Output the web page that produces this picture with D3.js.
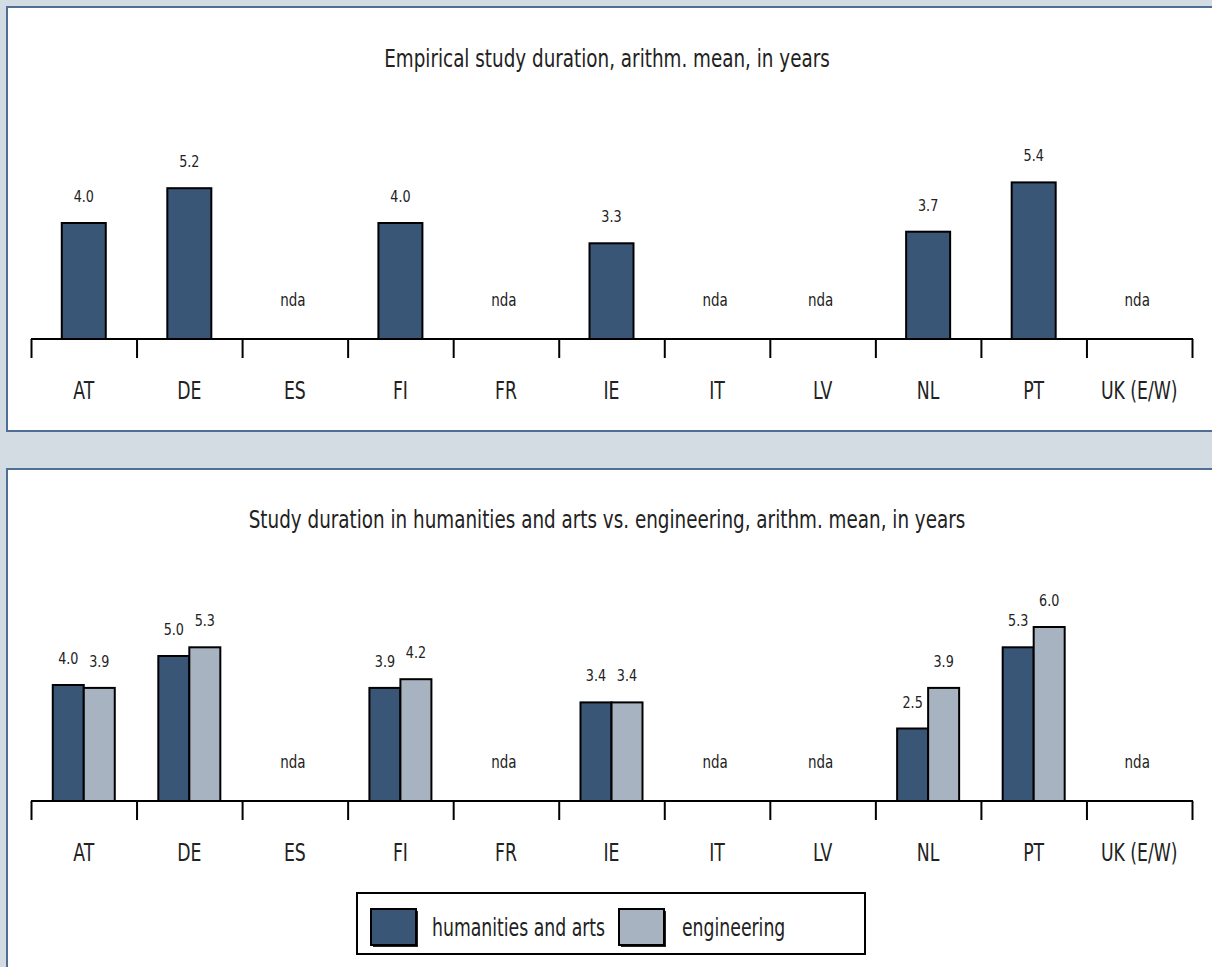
<!DOCTYPE html>
<html>
<head>
<meta charset="utf-8">
<script src="https://cdn.jsdelivr.net/npm/d3@7"></script>
<style>
  body { margin: 0; background: #d3dbe3; }
  svg { display: block; }
  text { font-family: "DejaVu Sans Condensed", "DejaVu Sans", sans-serif; fill: #222; }
</style>
</head>
<body>
<div id="chart"></div>
<script>
// data
var categories = ["AT", "DE", "ES", "FI", "FR", "IE", "IT", "LV", "NL", "PT", "UK (E/W)"];
var overallMean = [4.0, 5.2, null, 4.0, null, 3.3, null, null, 3.7, 5.4, null];
var humanitiesMean = [4.0, 5.0, null, 3.9, null, 3.4, null, null, 2.5, 5.3, null];
var engineeringMean = [3.9, 5.3, null, 4.2, null, 3.4, null, null, 3.9, 6.0, null];
var seriesNames = ["humanities and arts", "engineering"];
var titleTop = "Empirical study duration, arithm. mean, in years";
var titleBottom = "Study duration in humanities and arts vs. engineering, arithm. mean, in years";
var missingLabel = "nda";

var W = 1212, H = 967;
var dark = "#3a5677", light = "#a7b3c0";
var fmt = d3.format(".1f");

var svg = d3.select("#chart").append("svg")
  .attr("width", W)
  .attr("height", H);

svg.append("rect").attr("width", W).attr("height", H).attr("fill", "#d3dbe3");

// the original font is a narrow one, so squeeze the glyphs a bit
function label(g, x, y, str, size, sx, anchor) {
  return g.append("text")
    .attr("transform", "translate(" + x + "," + y + ") scale(" + sx + ",1)")
    .attr("text-anchor", anchor || "middle")
    .style("font-size", size + "px")
    .text(str);
}

// panels
svg.append("rect")
  .attr("x", 7).attr("y", 7).attr("width", W + 10).attr("height", 424)
  .attr("fill", "#fff").attr("stroke", "#4f6e93").attr("stroke-width", 2);
svg.append("rect")
  .attr("x", 7).attr("y", 469).attr("width", W + 10).attr("height", 520)
  .attr("fill", "#fff").attr("stroke", "#4f6e93").attr("stroke-width", 2);

var x = d3.scaleBand().domain(categories).range([31, 1192]).padding(0);
var edges = d3.scaleLinear().domain([0, categories.length]).range([31, 1192]);

function drawPanel(baseline, title, titleY, series, colors, barW) {
  var y = d3.scaleLinear().domain([0, 6]).range([baseline, baseline - 174]);
  var g = svg.append("g");

  label(g, 607, titleY, title, 24, 0.85);

  var n = series.length;
  var sub = d3.scaleBand().domain(d3.range(n)).range([-barW * n / 2, barW * n / 2]);

  series.forEach(function(vals, s) {
    var rows = categories.map(function(c, i) { return {cat: c, v: vals[i]}; })
      .filter(function(d) { return d.v != null; });

    g.selectAll(".bar" + s)
      .data(rows)
      .enter()
      .append("rect")
      .attr("x", function(d) { return x(d.cat) + x.bandwidth() / 2 + sub(s); })
      .attr("y", function(d) { return y(d.v); })
      .attr("width", sub.bandwidth())
      .attr("height", function(d) { return baseline - y(d.v); })
      .attr("fill", colors[s])
      .attr("stroke", "#000")
      .attr("stroke-width", 2);

    rows.forEach(function(d) {
      label(g, x(d.cat) + x.bandwidth() / 2 + sub(s) + sub.bandwidth() / 2, y(d.v) - 21, fmt(d.v), 16.5, 0.86);
    });
  });

  // nda where no value at all
  categories.forEach(function(c, i) {
    if (series[0][i] == null) label(g, x(c) + x.bandwidth() / 2 - 2, baseline - 33, missingLabel, 17, 0.88);
  });

  // tick marks at band edges
  var tickAxis = g.append("g")
    .attr("transform", "translate(0," + baseline + ")")
    .call(d3.axisBottom(edges).ticks(categories.length).tickSize(19).tickFormat(""));
  tickAxis.select(".domain").remove();
  tickAxis.selectAll("line").attr("stroke", "#000").attr("stroke-width", 2);

  g.append("line")
    .attr("x1", 31).attr("x2", 1193)
    .attr("y1", baseline).attr("y2", baseline)
    .attr("stroke", "#000").attr("stroke-width", 2);

  var labAxis = g.append("g")
    .attr("transform", "translate(0," + baseline + ")")
    .call(d3.axisBottom(x).tickSize(0).tickPadding(43));
  labAxis.select(".domain").remove();
  labAxis.selectAll("text")
    .attr("fill", "#222")
    .attr("transform", "scale(0.8,1)")
    .style("font-family", "\"DejaVu Sans Condensed\", \"DejaVu Sans\", sans-serif")
    .style("font-size", "24px");
}

drawPanel(339, titleTop, 67, [overallMean], [dark], 44);
drawPanel(801, titleBottom, 528, [humanitiesMean, engineeringMean], [dark, light], 31);

// legend
var leg = svg.append("g");
leg.append("rect")
  .attr("x", 357).attr("y", 893).attr("width", 508).attr("height", 61)
  .attr("fill", "#fff").attr("stroke", "#000").attr("stroke-width", 2);

var legX = [371, 619];
var legTextX = [432, 682];
seriesNames.forEach(function(name, i) {
  leg.append("rect")
    .attr("x", legX[i] + 2).attr("y", 911)
    .attr("width", 45).attr("height", 36)
    .attr("fill", "#222");
  leg.append("rect")
    .attr("x", legX[i]).attr("y", 909)
    .attr("width", 45).attr("height", 36)
    .attr("fill", [dark, light][i])
    .attr("stroke", "#000").attr("stroke-width", 2);
  label(leg, legTextX[i], 936, name, 24, 0.8, "start");
});
</script>
</body>
</html>
